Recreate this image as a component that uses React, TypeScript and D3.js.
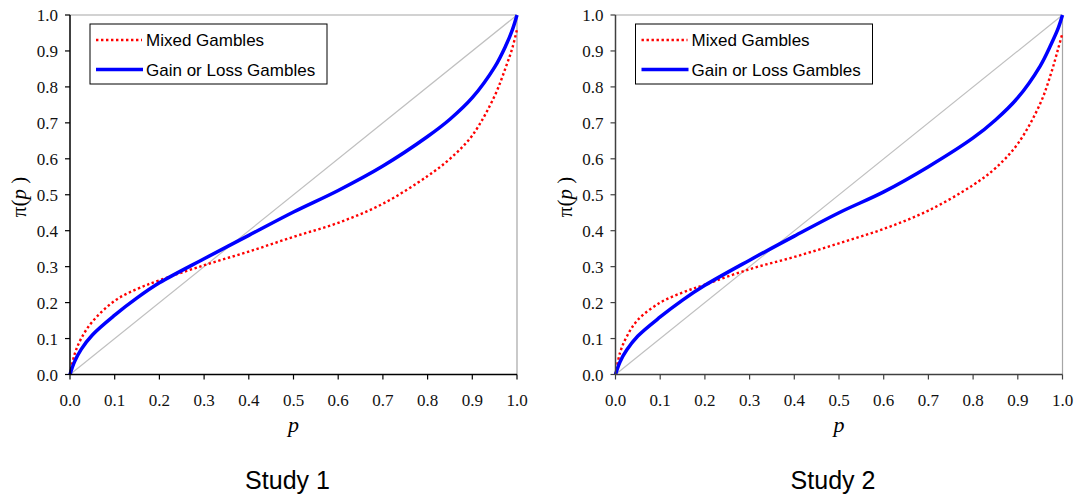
import React from "react";
import * as d3 from "d3";

// probability grid and weighting values
const pGrid = [0, 0.01, 0.025, 0.05, 0.1, 0.15, 0.2, 0.3, 0.4, 0.5, 0.6, 0.7, 0.8, 0.85, 0.9, 0.95, 0.975, 0.99, 1.0];

const study1Mixed = [0, 0.055, 0.1, 0.147, 0.205, 0.238, 0.262, 0.304, 0.342, 0.383, 0.422, 0.475, 0.552, 0.6, 0.665, 0.775, 0.855, 0.91, 0.96];
const study1Gain = [0, 0.035, 0.07, 0.11, 0.165, 0.213, 0.255, 0.322, 0.387, 0.452, 0.512, 0.58, 0.662, 0.71, 0.77, 0.855, 0.915, 0.96, 1.0];

const study2Mixed = [0, 0.06, 0.105, 0.152, 0.2, 0.228, 0.25, 0.293, 0.327, 0.365, 0.405, 0.456, 0.527, 0.574, 0.642, 0.753, 0.84, 0.905, 0.95];
const study2Gain = [0, 0.035, 0.068, 0.107, 0.16, 0.207, 0.248, 0.318, 0.385, 0.45, 0.508, 0.578, 0.658, 0.708, 0.77, 0.858, 0.92, 0.962, 1.0];

const tickValues = [0, 0.1, 0.2, 0.3, 0.4, 0.5, 0.6, 0.7, 0.8, 0.9, 1.0];
const seriesNames = ["Mixed Gambles", "Gain or Loss Gambles"];
const studyTitles = ["Study 1", "Study 2"];

const serif = "'Liberation Serif', 'Times New Roman', serif";
const sans = "'Liberation Sans', Arial, sans-serif";

function Panel({ left, right, mixed, gain, title, axisColor }) {
  const top = 15, bottom = 374.5;
  const x = d3.scaleLinear().domain([0, 1]).range([left, right]);
  const y = d3.scaleLinear().domain([0, 1]).range([bottom, top]);
  const line = d3.line<number>()
    .x((d, i) => x(pGrid[i]))
    .y(d => y(d))
    .curve(d3.curveCatmullRom.alpha(0.5));

  const lx = left + 20, ly = 24;
  const midX = (left + right) / 2;

  return (
    <g>
      {/* frame top/right */}
      <line x1={left} x2={right} y1={top} y2={top} stroke="#a6a6a6" strokeWidth={1.2} />
      <line x1={right} x2={right} y1={top} y2={bottom} stroke="#a6a6a6" strokeWidth={1.2} />

      {/* diagonal */}
      <line x1={x(0)} y1={y(0)} x2={x(1)} y2={y(1)} stroke="#c0c0c0" strokeWidth={1.2} />

      <path d={line(mixed) || ""} fill="none" stroke="#ff0000" strokeWidth={2.4} strokeDasharray="2.4,2.6" />
      <path d={line(gain) || ""} fill="none" stroke="#0000ff" strokeWidth={3.5} />

      {/* axes */}
      <line x1={left} x2={left} y1={top} y2={bottom} stroke={axisColor} strokeWidth={1.5} />
      <line x1={left} x2={right} y1={bottom} y2={bottom} stroke={axisColor} strokeWidth={1.5} />
      {tickValues.map(t => (
        <g key={"y" + t}>
          <line x1={left - 5} x2={left} y1={y(t)} y2={y(t)} stroke={axisColor} strokeWidth={1.2} />
          <text x={left - 12} y={y(t) + 6} textAnchor="end" fontFamily={serif} fontSize={17} fill="#111">
            {d3.format(".1f")(t)}
          </text>
        </g>
      ))}
      {tickValues.map(t => (
        <g key={"x" + t}>
          <line x1={x(t)} x2={x(t)} y1={bottom} y2={bottom + 5} stroke={axisColor} strokeWidth={1.2} />
          <text x={x(t)} y={bottom + 31} textAnchor="middle" fontFamily={serif} fontSize={17} fill="#111">
            {d3.format(".1f")(t)}
          </text>
        </g>
      ))}

      <text x={midX} y={432} textAnchor="middle" fontFamily={serif} fontSize={22} fontStyle="italic">p</text>
      <text transform={`translate(${left - 44},197) rotate(-90)`} textAnchor="middle" fontFamily={serif} fontSize={21}>
        π(<tspan fontStyle="italic">p</tspan> )
      </text>

      {/* legend */}
      <rect x={lx} y={ly} width={237} height={60} fill="#fff" stroke="#000" strokeWidth={1} />
      <line x1={lx + 6} x2={lx + 52} y1={ly + 16} y2={ly + 16} stroke="#ff0000" strokeWidth={2.4} strokeDasharray="2.4,2.6" />
      <text x={lx + 56} y={ly + 22} fontFamily={sans} fontSize={17}>{seriesNames[0]}</text>
      <line x1={lx + 6} x2={lx + 53} y1={ly + 45.5} y2={ly + 45.5} stroke="#0000ff" strokeWidth={3.5} />
      <text x={lx + 56} y={ly + 52} fontFamily={sans} fontSize={17}>{seriesNames[1]}</text>

      <text x={midX - 6} y={489} textAnchor="middle" fontFamily={sans} fontSize={25}>{title}</text>
    </g>
  );
}

export default function App() {
  return (
    <svg width={1075} height={494} style={{ position: "fixed", left: 0, top: 0, background: "#fff" }}>
      <rect width={1075} height={494} fill="#fff" />
      <Panel left={70} right={517} mixed={study1Mixed} gain={study1Gain} title={studyTitles[0]} axisColor="#000" />
      <Panel left={615.5} right={1062.5} mixed={study2Mixed} gain={study2Gain} title={studyTitles[1]} axisColor="#404040" />
    </svg>
  );
}
